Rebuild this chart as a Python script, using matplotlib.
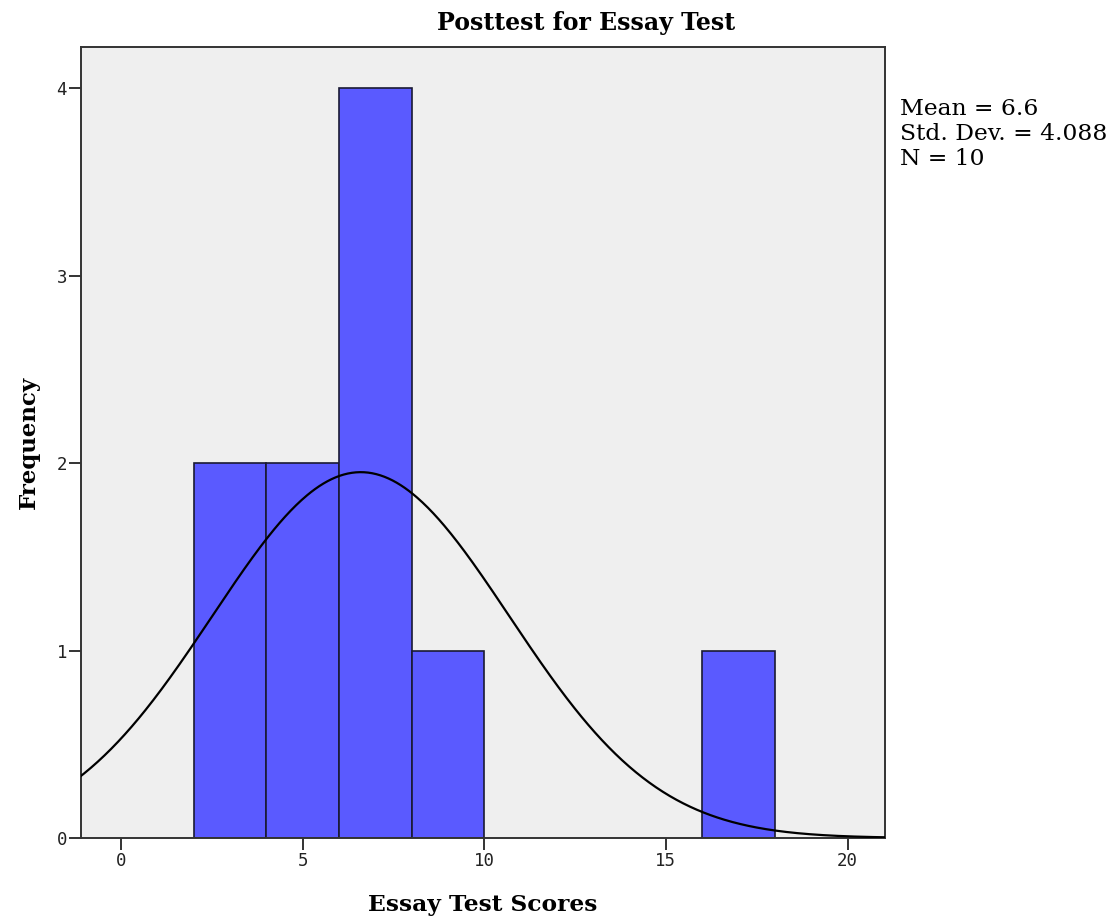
import numpy as np
import matplotlib
matplotlib.use("Agg")
import matplotlib.pyplot as plt

bin_left = [2, 4, 6, 8, 16]
bin_width = 2
counts = [2, 2, 4, 1, 1]
mean_val = 6.6
sd_val = 4.088
n_val = 10
x_ticks = [0, 5, 10, 15, 20]
y_ticks = [0, 1, 2, 3, 4]

fig = plt.figure(figsize=(11.18, 9.23), dpi=100)
ax = fig.add_axes([81/1118, 1-838/923, (885-81)/1118, (838-47)/923])
ax.set_facecolor("#efefef")
ax.bar(bin_left, counts, width=bin_width, align="edge", color="#5a5aff",
       edgecolor="#1a1a33", linewidth=1.2, zorder=2)
xs = np.linspace(-1.2, 21.2, 600)
ys = n_val * bin_width / (sd_val * np.sqrt(2*np.pi)) * np.exp(-0.5*((xs-mean_val)/sd_val)**2)
ax.plot(xs, ys, color="black", linewidth=1.6, zorder=3)
ax.set_xlim(-1.1, 21.03)
ax.set_ylim(0, 4.22)
ax.set_xticks(x_ticks)
ax.set_yticks(y_ticks)
for s in ax.spines.values():
    s.set_linewidth(1.4)
    s.set_color("#333333")
ax.tick_params(direction="out", length=8.5, width=1.4, color="#333333",
               labelsize=12.5, labelcolor="#222222", pad=1.5)
for lbl in ax.get_xticklabels() + ax.get_yticklabels():
    lbl.set_family("DejaVu Sans Mono")
ax.set_title("Posttest for Essay Test", family="DejaVu Serif", fontweight="bold",
             fontsize=17, pad=12, x=(586-81)/804)
ax.set_xlabel("Essay Test Scores", family="DejaVu Serif", fontweight="bold",
              fontsize=16.8, labelpad=17)
ax.set_ylabel("Frequency", family="DejaVu Serif", fontweight="bold",
              fontsize=16.5, labelpad=12)
fig.text(900/1118, 1-134/923, f"Mean = {mean_val}\nStd. Dev. = {sd_val}\nN = {n_val}",
         family="DejaVu Serif", fontsize=16.8, va="center", ha="left", linespacing=1.2)
fig.savefig("out.png", dpi=100)
